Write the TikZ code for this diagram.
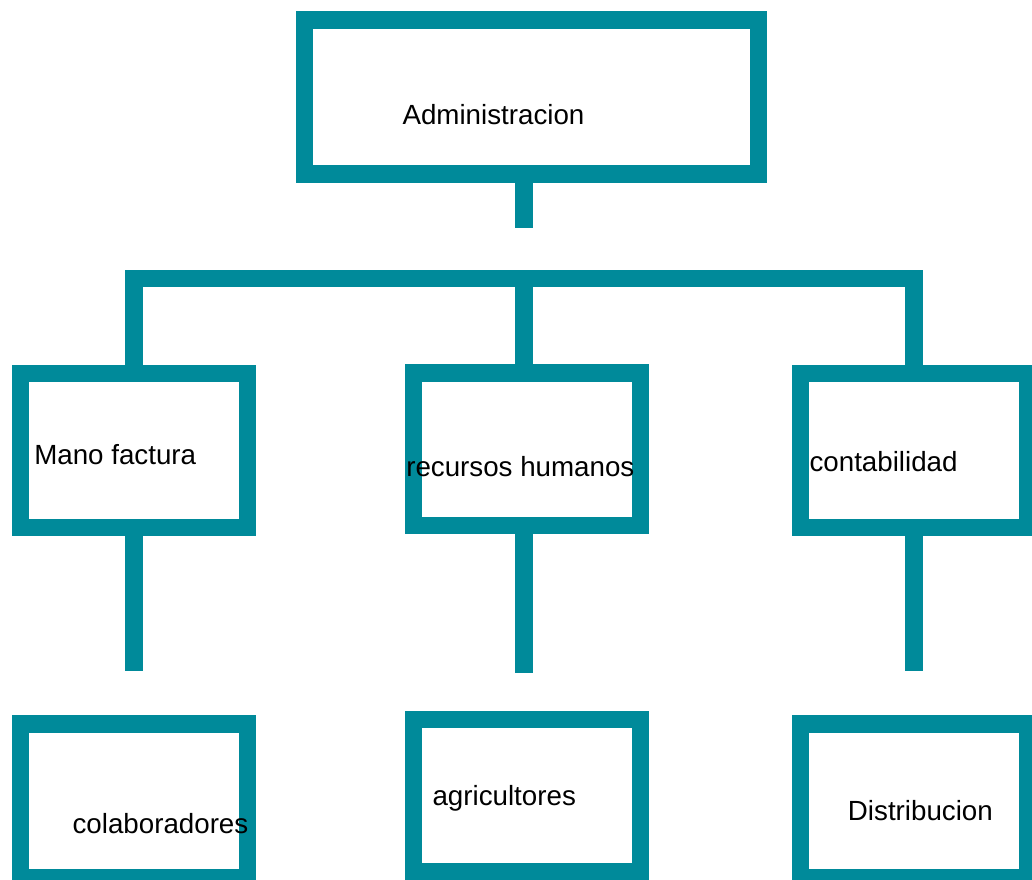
\documentclass[tikz,border=0pt]{standalone}
\usepackage{fontspec}
\setmainfont{Liberation Sans}
\definecolor{teal}{RGB}{0,138,154}
\begin{document}
\begin{tikzpicture}[x=0.75pt,y=-0.75pt,
  box/.style={draw=teal,line width=13.1pt,rectangle,inner sep=0pt,fill=none},
  conn/.style={draw=teal,line width=13.1pt,line cap=butt,line join=miter},
  lbl/.style={anchor=base west,inner sep=0pt,font=\fontsize{20.8pt}{25pt}\selectfont}]
\useasboundingbox (0,0) rectangle (1032,879);
% boxes
\node[box,minimum width=454.2*0.75pt,minimum height=154.4*0.75pt] (adm) at (531.6,97) {};
\node[box,minimum width=226.8*0.75pt,minimum height=154*0.75pt] (mano) at (133.9,450.5) {};
\node[box,minimum width=227*0.75pt,minimum height=152.5*0.75pt] (rrhh) at (527.2,449.2) {};
\node[box,minimum width=227*0.75pt,minimum height=154*0.75pt] (cont) at (914,450.5) {};
\node[box,minimum width=226.8*0.75pt,minimum height=154*0.75pt] (cola) at (133.9,801) {};
\node[box,minimum width=227*0.75pt,minimum height=152.3*0.75pt] (agri) at (527.2,795.9) {};
\node[box,minimum width=227*0.75pt,minimum height=154*0.75pt] (dist) at (914,801) {};
% free ends
\coordinate (s0) at (523.8,227.7);
\coordinate (bar) at (523.8,278.7);
\coordinate (s1) at (134,671);
\coordinate (s2) at (524,672.7);
\coordinate (s3) at (914,671);
% connectors
\draw[conn] (s0 |- adm.south) -- (s0);
\draw[conn] (mano.north) -- (mano.north |- bar) -- (cont.north |- bar) -- (cont.north);
\draw[conn] (bar) -- (bar |- rrhh.north);
\draw[conn] (s1 |- mano.south) -- (s1);
\draw[conn] (s2 |- rrhh.south) -- (s2);
\draw[conn] (s3 |- cont.south) -- (s3);
% labels
\node[lbl] (tadm) at (402.3,124) {Administracion};
\node[lbl] (tmano) at (34,464.3) {Mano factura};
\node[lbl] (trrhh) at (406,476) {recursos humanos};
\node[lbl] (tcont) at (809.3,471) {contabilidad};
\node[lbl] (tcola) at (72.3,833.3) {colaboradores};
\node[lbl] (tagri) at (432.3,805) {agricultores};
\node[lbl] (tdist) at (847.7,820) {Distribucion};
\end{tikzpicture}
\end{document}
